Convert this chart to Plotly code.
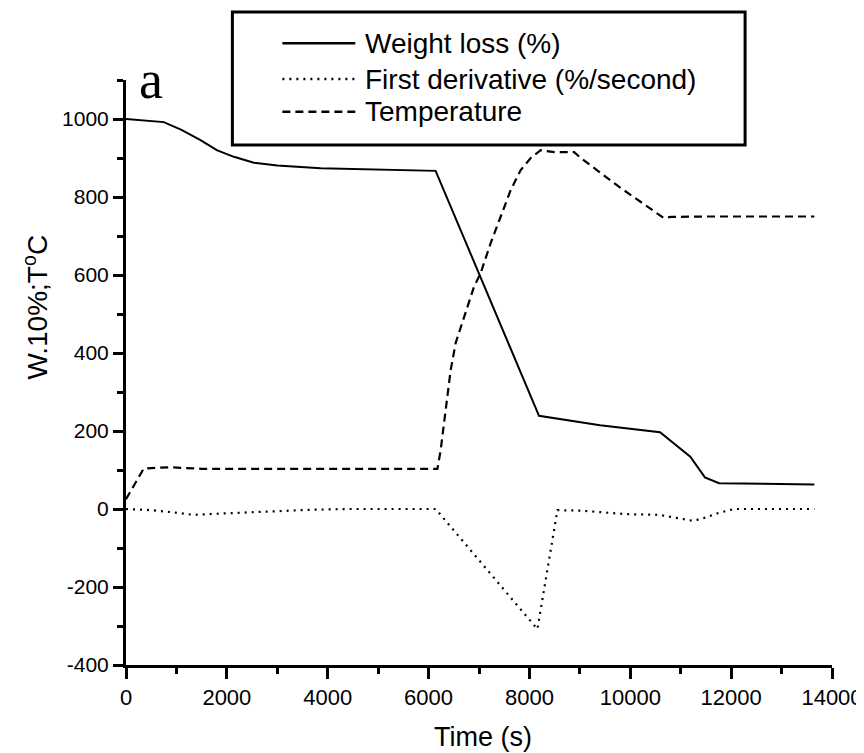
import plotly.graph_objects as go

# ---- data ----
time_weight = [0, 750, 1100, 1478, 1800, 2139, 2536, 3000, 3859, 5000, 6140,
               8190, 9400, 10590, 11190, 11480, 11760, 13650]
weight_loss = [1000, 992, 972, 946, 920, 903, 888, 881, 874, 870, 867,
               239, 215, 197, 134, 81, 66, 63]

time_deriv = [0, 500, 900, 1345, 2000, 2669, 3661, 4389, 6141, 8158, 8555,
              9000, 9415, 9900, 10570, 11063, 11233, 11399, 11730, 12060, 13650]
first_deriv = [0, -3, -8, -15, -11, -7, -2, 0, 0, -308, -3,
               -4, -8, -13, -15, -26, -30, -26, -11, 0, 0]

time_temp = [0, 353, 883, 1500, 6175, 6240, 6339, 6438, 6538, 6703, 6901, 7034,
             7232, 7431, 7629, 7827, 8026, 8224, 8490, 8886, 9018, 9812, 10665,
             10804, 11500, 13650]
temperature = [25, 104, 107, 103, 103, 151, 254, 356, 426, 493, 570, 605,
               682, 750, 818, 869, 900, 920, 915, 915, 900, 823, 746,
               749, 750, 750]

series_names = ["Weight loss (%)", "First derivative (%/second)", "Temperature"]
x_ticks = [0, 2000, 4000, 6000, 8000, 10000, 12000, 14000]
y_ticks = [-400, -200, 0, 200, 400, 600, 800, 1000]

FONT = "Liberation Sans, Arial, sans-serif"
dash_styles = ["solid", "2px,5px", "8px,5px"]

fig = go.Figure()
fig.add_trace(go.Scatter(x=time_weight, y=weight_loss, mode="lines", name=series_names[0],
                         line=dict(color="black", width=2, dash=dash_styles[0])))
fig.add_trace(go.Scatter(x=time_deriv, y=first_deriv, mode="lines", name=series_names[1],
                         line=dict(color="black", width=2.2, dash=dash_styles[1])))
fig.add_trace(go.Scatter(x=time_temp, y=temperature, mode="lines", name=series_names[2],
                         line=dict(color="black", width=2.2, dash=dash_styles[2])))

# ---- legend box drawn manually (matches the reference's long line samples) ----
box = dict(x0=0.1507, x1=0.8769, y0=0.8889, y1=1.1162)
shapes = [dict(type="rect", xref="paper", yref="paper", **box,
               line=dict(color="black", width=3), fillcolor="rgba(0,0,0,0)")]
annotations = []
row_y = [1.0627, 1.0017, 0.9458]
for name, dash, yy in zip(series_names, dash_styles, row_y):
    shapes.append(dict(type="line", xref="paper", yref="paper",
                       x0=0.2215, x1=0.3248, y0=yy, y1=yy,
                       line=dict(color="black", width=2.5, dash=dash)))
    annotations.append(dict(text=name, xref="paper", yref="paper", x=0.3362, y=yy,
                            xanchor="left", yanchor="middle", showarrow=False,
                            font=dict(family=FONT, size=28, color="black")))

# panel label
annotations.append(dict(text="a", xref="paper", yref="paper", x=0.0361, y=1.0,
                        xanchor="center", yanchor="middle", showarrow=False,
                        font=dict(family="Liberation Serif, Times New Roman, serif",
                                  size=54, color="black")))
# y-axis title
annotations.append(dict(text="W.10%;T<sup>o</sup>C", xref="paper", yref="paper",
                        x=-0.128, y=0.612, xanchor="center", yanchor="middle",
                        textangle=-90, showarrow=False,
                        font=dict(family=FONT, size=28, color="black")))
# x-axis title
annotations.append(dict(text="Time (s)", xref="paper", yref="paper",
                        x=0.506, y=-0.123, xanchor="center", yanchor="middle",
                        showarrow=False,
                        font=dict(family=FONT, size=27, color="black")))

# the page body adds an 8px offset; size the figure so the plot area lands
# at the reference's position inside the 864x753 window
fig.update_layout(
    width=856, height=745,
    margin=dict(l=117.5, r=32, t=72, b=88, autoexpand=False),
    paper_bgcolor="white", plot_bgcolor="white",
    showlegend=False,
    shapes=shapes, annotations=annotations,
    font=dict(family=FONT, color="black"),
)
fig.update_xaxes(range=[0, 14000], tickvals=x_ticks, ticktext=[str(v) for v in x_ticks],
                 automargin=False,
                 showgrid=False, zeroline=False, showline=True, linecolor="black", linewidth=3,
                 ticks="outside", ticklen=11, tickwidth=3, tickcolor="black",
                 minor=dict(dtick=1000, ticks="outside", ticklen=6, tickwidth=3, tickcolor="black"),
                 tickfont=dict(family=FONT, size=22, color="black"))
fig.update_yaxes(range=[-400, 1100], tickvals=y_ticks, ticktext=[str(v) for v in y_ticks],
                 automargin=False,
                 showgrid=False, zeroline=False, showline=True, linecolor="black", linewidth=3,
                 ticks="outside", ticklen=10, tickwidth=3, tickcolor="black",
                 minor=dict(dtick=100, ticks="outside", ticklen=6, tickwidth=3, tickcolor="black"),
                 tickfont=dict(family=FONT, size=21, color="black"))

fig.write_html("out.html")
